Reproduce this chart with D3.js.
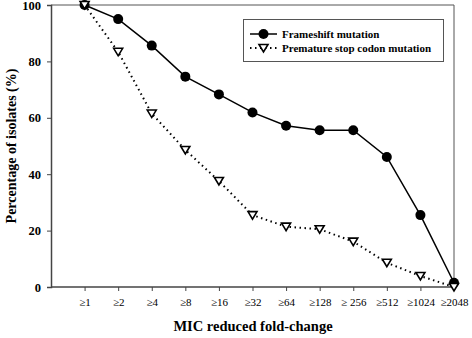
<!DOCTYPE html>
<html>
<head>
<meta charset="utf-8">
<script src="https://cdn.jsdelivr.net/npm/d3@7"></script>
<style>
    body { margin: 0; background: #fff; }
    svg { display: block; }
</style>
</head>
<body>
<svg id="chart" width="472" height="338"></svg>
<script>
"use strict";

const categories = ["\u22651", "\u22652", "\u22654", "\u22658", "\u226516", "\u226532",
    "\u226564", "\u2265128", "\u2265 256", "\u2265512", "\u22651024", "\u22652048"];
const frameshift = [100, 95, 85.6, 74.6, 68.3, 61.9, 57.2, 55.6, 55.6, 46.1, 25.5, 1.5];
const prematureStop = [100, 83.4, 61.5, 48.6, 37.6, 25.5, 21.4, 20.5, 16.1, 8.6, 3.9, 0];
const yTicks = [0, 20, 40, 60, 80, 100];
const seriesNames = ["Frameshift mutation", "Premature stop codon mutation"];

const svg = d3.select("#chart");
const font = "'Liberation Serif', 'Times New Roman', serif";

const plotLeft = 51, plotRight = 454, plotTop = 5, plotBottom = 287;

// category i sits at position i+1, axis starts at 0
const x = d3.scaleLinear().domain([0, categories.length]).range([plotLeft, plotRight]);
const y = d3.scaleLinear().domain([0, 100]).range([plotBottom, plotTop]);

// frame lines (top and right)
svg.append("path")
    .attr("d", `M${plotLeft},${plotTop}H${plotRight}V${plotBottom}`)
    .attr("fill", "none")
    .attr("stroke", "#555")
    .attr("stroke-width", 1);

// y axis
const yAxis = svg.append("g")
    .attr("transform", `translate(${plotLeft},0)`)
    .call(d3.axisLeft(y).tickValues(yTicks).tickSize(4).tickPadding(6));
yAxis.select(".domain").attr("stroke", "#444").attr("stroke-width", 1.5);
yAxis.selectAll(".tick line").attr("stroke", "#444");
yAxis.selectAll("text")
    .attr("font-family", font)
    .attr("font-size", 12.5)
    .attr("font-weight", "bold")
    .attr("fill", "#000");

// x axis
const xAxis = svg.append("g")
    .attr("transform", `translate(0,${plotBottom})`)
    .call(d3.axisBottom(x)
        .tickValues(d3.range(1, categories.length + 1))
        .tickFormat((d) => categories[d - 1])
        .tickSize(4)
        .tickPadding(7));
xAxis.select(".domain").attr("stroke", "#444").attr("stroke-width", 1.5)
    .attr("d", `M${plotLeft},0H${plotRight}`);
xAxis.selectAll(".tick line").attr("stroke", "#444");
xAxis.selectAll("text")
    .attr("font-family", font)
    .attr("font-size", 11)
    .attr("fill", "#000");

// axis titles
svg.append("text")
    .attr("x", 253)
    .attr("y", 331)
    .attr("text-anchor", "middle")
    .attr("font-family", font)
    .attr("font-size", 14.5)
    .attr("font-weight", "bold")
    .text("MIC reduced fold-change");

svg.append("text")
    .attr("transform", "translate(16,146) rotate(-90)")
    .attr("text-anchor", "middle")
    .attr("font-family", font)
    .attr("font-size", 14)
    .attr("font-weight", "bold")
    .text("Percentage of isolates (%)");

const line = d3.line()
    .x((d, i) => x(i + 1))
    .y((d) => y(d));

// premature stop codon series (dotted, open triangles)
svg.append("path")
    .datum(prematureStop)
    .attr("d", line)
    .attr("fill", "none")
    .attr("stroke", "#000")
    .attr("stroke-width", 2)
    .attr("stroke-dasharray", "1.5,3.5");

// frameshift series (solid, filled circles)
svg.append("path")
    .datum(frameshift)
    .attr("d", line)
    .attr("fill", "none")
    .attr("stroke", "#000")
    .attr("stroke-width", 1.5);

const triangle = "M-4.5,-3.5L4.5,-3.5L0,4Z";

svg.append("g")
    .selectAll("circle")
    .data(frameshift)
    .join("circle")
    .attr("cx", (d, i) => x(i + 1))
    .attr("cy", (d) => y(d))
    .attr("r", 5)
    .attr("fill", "#000");

svg.append("g")
    .selectAll("path")
    .data(prematureStop)
    .join("path")
    .attr("transform", (d, i) => `translate(${x(i + 1)},${y(d)})`)
    .attr("d", triangle)
    .attr("fill", "#fff")
    .attr("stroke", "#000")
    .attr("stroke-width", 1.6);

// legend
const legend = svg.append("g");
legend.append("rect")
    .attr("x", 243.5)
    .attr("y", 19.5)
    .attr("width", 200)
    .attr("height", 42)
    .attr("fill", "#fff")
    .attr("stroke", "#555")
    .attr("stroke-width", 1);

const rows = legend.selectAll("g.row")
    .data(seriesNames)
    .join("g")
    .attr("class", "row")
    .attr("transform", (d, i) => `translate(0,${34 + i * 14})`);

rows.append("line")
    .attr("x1", 250)
    .attr("x2", 277)
    .attr("stroke", "#000")
    .attr("stroke-width", (d, i) => i === 0 ? 1.5 : 2)
    .attr("stroke-dasharray", (d, i) => i === 0 ? null : "1.5,3.5");

rows.each(function (d, i) {
    const g = d3.select(this);
    if (i === 0) {
        g.append("circle").attr("cx", 263.5).attr("r", 5).attr("fill", "#000");
    } else {
        g.append("path")
            .attr("transform", "translate(263.5,0)")
            .attr("d", triangle)
            .attr("fill", "#fff")
            .attr("stroke", "#000")
            .attr("stroke-width", 1.6);
    }
});

rows.append("text")
    .attr("x", 282)
    .attr("dy", "0.35em")
    .attr("font-family", font)
    .attr("font-size", 11)
    .attr("font-weight", "bold")
    .text((d) => d);
</script>
</body>
</html>
